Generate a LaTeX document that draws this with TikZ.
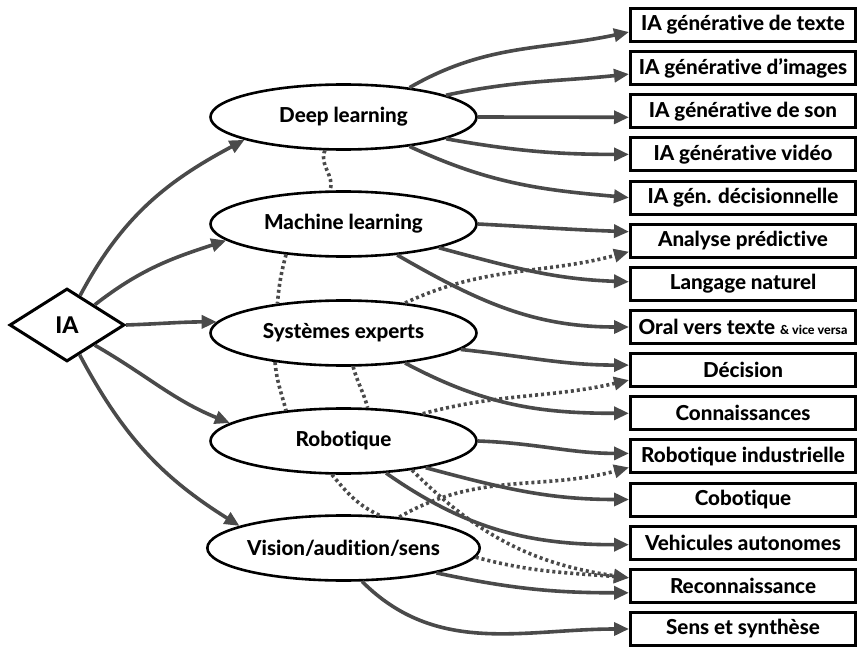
\documentclass[tikz,border=0pt]{standalone}
\usepackage{fontspec}
\setmainfont{Lato}[BoldFont={Lato Heavy},Ligatures={NoCommon,NoRare}]
\usetikzlibrary{shapes.geometric,arrows.meta}
\definecolor{linkgray}{RGB}{74,74,74}
\begin{document}
\begin{tikzpicture}[x=1pt,y=1pt,
  rootnode/.style={diamond, draw=black, line width=3pt, fill=white, minimum width=115pt,
    minimum height=73pt, inner sep=0pt, font=\fontsize{23}{25}\selectfont\bfseries},
  areanode/.style={ellipse, draw=black, line width=2.6pt, fill=white, minimum width=266pt,
    minimum height=65pt, inner sep=0pt, font=\fontsize{20.6}{22}\selectfont\bfseries},
  usenode/.style={rectangle, draw=black, line width=3pt, fill=white, minimum width=225pt,
    minimum height=33pt, inner sep=0pt, font=\fontsize{20.6}{22}\selectfont\bfseries},
  solidlink/.style={draw=linkgray, line width=3.6pt, -{Triangle[length=15pt,width=13pt]}},
  weaklink/.style={solidlink, dash pattern=on 3pt off 3pt},
  tielink/.style={draw=linkgray, line width=3.6pt, dash pattern=on 3pt off 3pt},
]
\useasboundingbox (0,0) rectangle (857,-647);

% root
\node[rootnode] (ia) at (67,-325) {IA};

% areas
\node[areanode] (dl)  at (343.5,-117) {Deep learning};
\node[areanode] (ml)  at (343.5,-224) {Machine learning};
\node[areanode] (se)  at (343.5,-333) {Systèmes experts};
\node[areanode] (rob) at (343.5,-441) {Robotique};
\node[areanode] (vis) at (343.5,-548) {Vision/audition/sens};

% applications
\node[usenode] (b1)  at (743,-25.0)  {IA générative de texte};
\node[usenode] (b2)  at (743,-68.1)  {IA générative d’images};
\node[usenode] (b3)  at (743,-111.3) {IA générative de son};
\node[usenode] (b4)  at (743,-154.4) {IA générative vidéo};
\node[usenode] (b5)  at (743,-197.6) {IA gén. décisionnelle};
\node[usenode] (b6)  at (743,-240.7) {Analyse prédictive};
\node[usenode] (b7)  at (743,-283.8) {Langage naturel};
\node[usenode] (b8)  at (743,-327.0) {Oral vers texte {\fontsize{12.5}{14}\selectfont\& vice versa}};
\node[usenode] (b9)  at (743,-370.1) {Décision};
\node[usenode] (b10) at (743,-413.3) {Connaissances};
\node[usenode] (b11) at (743,-456.4) {Robotique industrielle};
\node[usenode] (b12) at (743,-499.5) {Cobotique};
\node[usenode] (b13) at (743,-542.7) {Vehicules autonomes};
\node[usenode] (b14) at (743,-585.8) {Reconnaissance};
\node[usenode] (b15) at (743,-629.0) {Sens et synthèse};

% root to areas
\draw[solidlink] (ia.66)  to[out=62,in=208]  (dl.193);
\draw[solidlink] (ia.36)  to[out=38,in=198]  (ml.188);
\draw[solidlink] (ia.east) to[out=2,in=180]  (se.175);
\draw[solidlink] (ia.-36) to[out=-30,in=158] (rob.171);
\draw[solidlink] (ia.-67) to[out=-62,in=148] (vis.168);

% links between areas
\draw[tielink] (dl.-119) to[out=-115,in=70] (ml.112);
\draw[tielink] (ml.-152) to[out=-105,in=85] (se.156);
\draw[tielink] (se.-157) to[out=-85,in=105] (rob.152);
\draw[tielink] (se.-74)  to[out=-75,in=105] (rob.54);
\draw[tielink] (rob.-109) to[out=-50,in=155] (vis.42);

% deep learning
\draw[solidlink] (dl.24)  to[out=30,in=192]  ([yshift=-7pt]b1.west);
\draw[solidlink] (dl.12)  to[out=12,in=186]  ([yshift=-6pt]b2.west);
\draw[solidlink] (dl.east) to              ([yshift=-6pt]b3.west);
\draw[solidlink] (dl.-12) to[out=-10,in=180] (b4.west);
\draw[solidlink] (dl.-24) to[out=-25,in=175] (b5.west);

% machine learning
\draw[solidlink] (ml.east) to[out=-3,in=178] ([yshift=9pt]b6.west);
\draw[solidlink] (ml.-14) to[out=-15,in=178] ([yshift=2pt]b7.west);
\draw[solidlink] (ml.-30) to[out=-30,in=180] (b8.west);

% expert systems
\draw[weaklink] (se.26)  to[out=25,in=195]  ([yshift=-11pt]b6.west);
\draw[solidlink] (se.-8)  to[out=-6,in=180]  ([yshift=5pt]b9.west);
\draw[solidlink] (se.-26) to[out=-28,in=180] (b10.west);

% robotics
\draw[weaklink] (rob.19)  to[out=15,in=193]  ([yshift=-10pt]b9.west);
\draw[solidlink] (rob.east) to[out=-2,in=180] ([yshift=3pt]b11.west);
\draw[solidlink] (rob.-18) to[out=-15,in=180] (b12.west);
\draw[solidlink] (rob.-37) to[out=-35,in=180] ([yshift=-2pt]b13.west);
\draw[weaklink] (rob.-23) to[out=-45,in=172] ([yshift=8pt]b14.west);

% vision
\draw[weaklink] (vis.29)  to[out=30,in=195]  ([yshift=-11pt]b11.west);
\draw[weaklink] (vis.-4)  to[out=-15,in=175] ([yshift=8pt]b14.west);
\draw[solidlink] (vis.-15) to[out=-12,in=180] ([yshift=-7pt]b14.west);
\draw[solidlink] (vis.-61) to[out=-45,in=180] (b15.west);
\end{tikzpicture}
\end{document}
